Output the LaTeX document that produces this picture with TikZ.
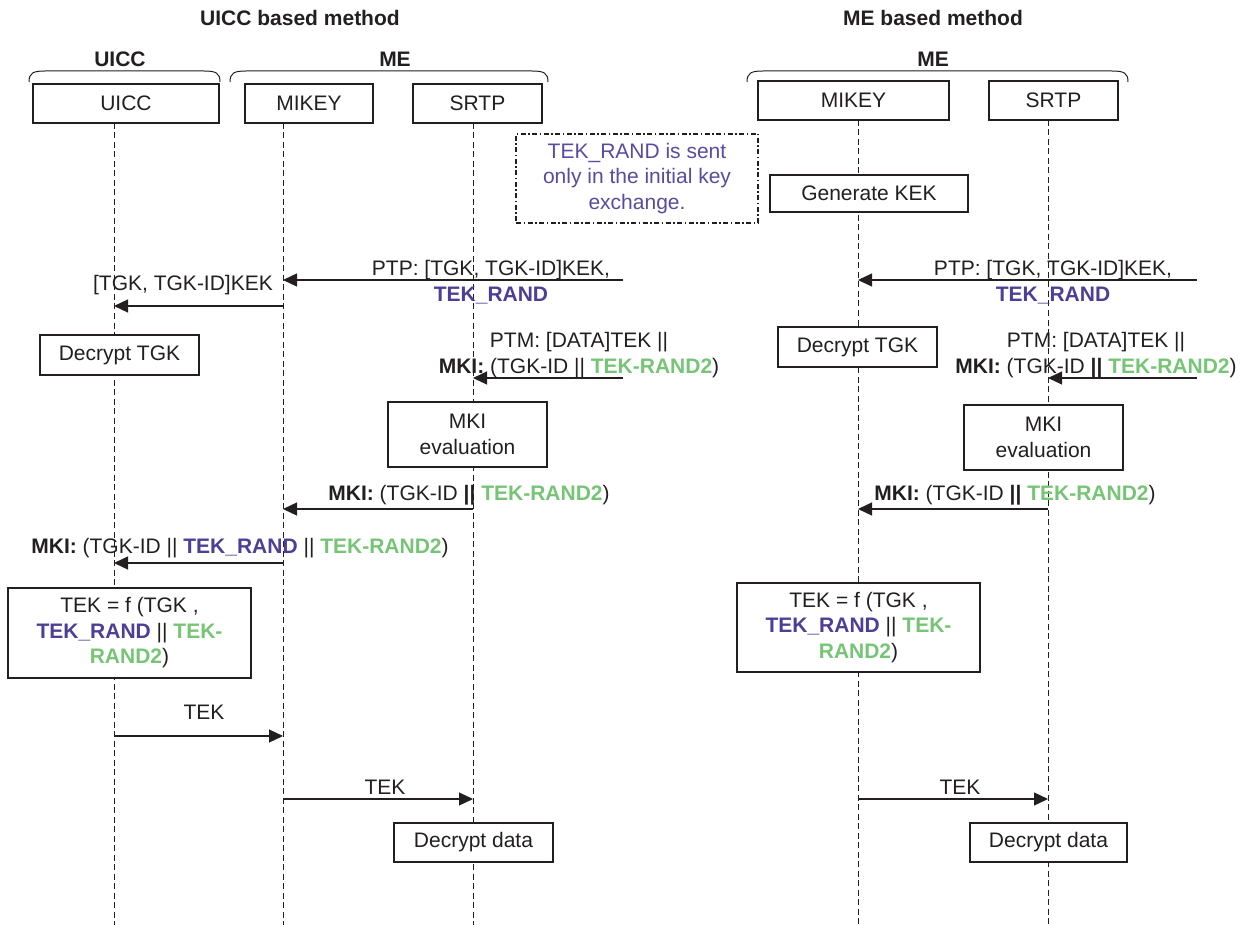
\documentclass[tikz,border=0pt]{standalone}
\usepackage{fontspec}
\setmainfont{Liberation Sans}
\usetikzlibrary{arrows.meta}
\definecolor{ink}{RGB}{35,31,32}
\definecolor{tekpurple}{RGB}{78,62,150}
\definecolor{notepurple}{RGB}{88,76,160}
\definecolor{tekgreen}{RGB}{118,196,118}
\newcommand{\tekrand}{\textcolor{tekpurple}{\textbf{TEK\_RAND}}}
\newcommand{\tekrandtwo}{\textcolor{tekgreen}{\textbf{TEK-RAND2}}}
\begin{document}
\begin{tikzpicture}[x=1pt,y=-1pt,
  every node/.style={font=\fontsize{21}{25.5}\selectfont, text=ink},
  box/.style={draw=ink, line width=1.1pt, fill=white, inner sep=0pt, align=center},
  notebox/.style={draw=ink, line width=1.3pt, fill=white, inner sep=0pt, align=center,
    text=notepurple, dash pattern=on 5pt off 2.5pt on 1.5pt off 2.5pt},
  life/.style={draw=ink, line width=0.9pt, dash pattern=on 6pt off 3.5pt},
  msg/.style={draw=ink, line width=1.2pt, -{Triangle[length=14pt,width=13pt]}},
  lbl/.style={inner sep=0pt, align=center},
  grp/.style={draw=ink, line width=1pt},
  hd/.style={inner sep=0pt, font=\fontsize{21}{25.5}\selectfont\bfseries}]

\useasboundingbox (0,0) rectangle (1250,925);

% lifeline anchors and the bottom edge
\coordinate (bottom) at (0,925);
\coordinate (uiccL) at (114,123);
\coordinate (mikeyL) at (283,123);
\coordinate (srtpL) at (473,123);
\coordinate (mikeyR) at (858,120);
\coordinate (srtpR) at (1048,120);

% lifelines
\foreach \p in {uiccL,mikeyL,srtpL,mikeyR,srtpR}
  \draw[life] (\p) -- (\p |- bottom);

% titles and group labels
\node[hd] (titleL) at (300,18) {UICC based method};
\node[hd] (titleR) at (933,18) {ME based method};
\node[hd] (grpUicc) at (120,59) {UICC};
\node[hd] (grpMeL) at (395,59) {ME};
\node[hd] (grpMeR) at (933,59) {ME};

% group brackets
\draw[grp] (29,82) .. controls (29,73) and (33,71) .. (45,71) -- (204,71)
  .. controls (216,71) and (220,73) .. (220,82);
\draw[grp] (230,82) .. controls (230,73) and (234,71) .. (246,71) -- (532,71)
  .. controls (544,71) and (548,73) .. (548,82);
\draw[grp] (747,82) .. controls (747,73) and (751,71) .. (763,71) -- (1112,71)
  .. controls (1124,71) and (1128,73) .. (1128,82);

% entity boxes
\node[box, minimum width=186pt, minimum height=39pt] (hUicc) at (126,103.5) {UICC};
\node[box, minimum width=128pt, minimum height=39pt] (hMikeyL) at (309,103.5) {MIKEY};
\node[box, minimum width=129pt, minimum height=39pt] (hSrtpL) at (477.5,103.5) {SRTP};
\node[box, minimum width=191pt, minimum height=39pt] (hMikeyR) at (853.5,100.5) {MIKEY};
\node[box, minimum width=129pt, minimum height=39pt] (hSrtpR) at (1053.5,100.5) {SRTP};

% note
\node[notebox, minimum width=242pt, minimum height=89pt] (note) at (637,178.5)
  {TEK\_RAND is sent\\only in the initial key\\exchange.};

% processing steps
\node[box, minimum width=198pt, minimum height=37pt] (genKek) at (869,193.5) {Generate KEK};
\node[box, minimum width=159pt, minimum height=40pt] (decTgkL) at (119.5,355) {Decrypt TGK};
\node[box, minimum width=159pt, minimum height=40pt] (decTgkR) at (857.5,347) {Decrypt TGK};
\node[box, minimum width=159pt, minimum height=65pt] (mkiEvalL) at (467.5,434.5) {MKI\\evaluation};
\node[box, minimum width=159pt, minimum height=65pt] (mkiEvalR) at (1043.5,437.5) {MKI\\evaluation};
\node[box, minimum width=243pt, minimum height=90pt] (tekFL) at (129.5,633)
  {TEK = f (TGK ,\\\tekrand{} || \textcolor{tekgreen}{\textbf{TEK-}}\\\textcolor{tekgreen}{\textbf{RAND2}})};
\node[box, minimum width=243pt, minimum height=89pt] (tekFR) at (858.5,627.5)
  {TEK = f (TGK ,\\\tekrand{} || \textcolor{tekgreen}{\textbf{TEK-}}\\\textcolor{tekgreen}{\textbf{RAND2}})};
\node[box, minimum width=159pt, minimum height=39pt] (decDataL) at (473.5,842.5) {Decrypt data};
\node[box, minimum width=157pt, minimum height=39pt] (decDataR) at (1048.5,842.5) {Decrypt data};

% message rows and incoming ends
\coordinate (ptpInL) at (623,280);
\coordinate (ptmInL) at (623,378);
\coordinate (ptpInR) at (1197,280);
\coordinate (ptmInR) at (1197,378);
\coordinate (rowKek) at (0,306);
\coordinate (rowMki) at (0,509);
\coordinate (rowMkiU) at (0,563);
\coordinate (rowTek1) at (0,736);
\coordinate (rowTek2) at (0,799);

% UICC based method messages
\draw[msg] (ptpInL) -- (ptpInL -| mikeyL);
\node[lbl] (ptpLblL) at (491,282) {PTP: [TGK, TGK-ID]KEK,\\\tekrand};
\draw[msg] (mikeyL |- rowKek) -- (uiccL |- rowKek);
\node[lbl] (kekLbl) at (183,285) {[TGK, TGK-ID]KEK};
\draw[msg] (ptmInL) -- (ptmInL -| srtpL);
\node[lbl] (ptmLblL) at (579,355) {PTM: [DATA]TEK ||\\\textbf{MKI:} (TGK-ID || \tekrandtwo)};
\draw[msg] (srtpL |- rowMki) -- (mikeyL |- rowMki);
\node[lbl] (mkiLblL) at (469,495) {\textbf{MKI:} (TGK-ID \textbf{||} \tekrandtwo)};
\draw[msg] (mikeyL |- rowMkiU) -- (uiccL |- rowMkiU);
\node[lbl] (mkiLblU) at (240,548) {\textbf{MKI:} (TGK-ID || \tekrand{} || \tekrandtwo)};
\draw[msg] (uiccL |- rowTek1) -- (mikeyL |- rowTek1);
\node[lbl] (tekLbl1) at (204,712) {TEK};
\draw[msg] (mikeyL |- rowTek2) -- (srtpL |- rowTek2);
\node[lbl] (tekLbl2) at (385,787) {TEK};

% ME based method messages
\draw[msg] (ptpInR) -- (ptpInR -| mikeyR);
\node[lbl] (ptpLblR) at (1053,282) {PTP: [TGK, TGK-ID]KEK,\\\tekrand};
\draw[msg] (ptmInR) -- (ptmInR -| srtpR);
\node[lbl] (ptmLblR) at (1096,355) {PTM: [DATA]TEK ||\\\textbf{MKI:} (TGK-ID \textbf{||} \tekrandtwo)};
\draw[msg] (srtpR |- rowMki) -- (mikeyR |- rowMki);
\node[lbl] (mkiLblR) at (1015,495) {\textbf{MKI:} (TGK-ID \textbf{||} \tekrandtwo)};
\draw[msg] (mikeyR |- rowTek2) -- (srtpR |- rowTek2);
\node[lbl] (tekLbl3) at (960,787) {TEK};

\end{tikzpicture}
\end{document}
